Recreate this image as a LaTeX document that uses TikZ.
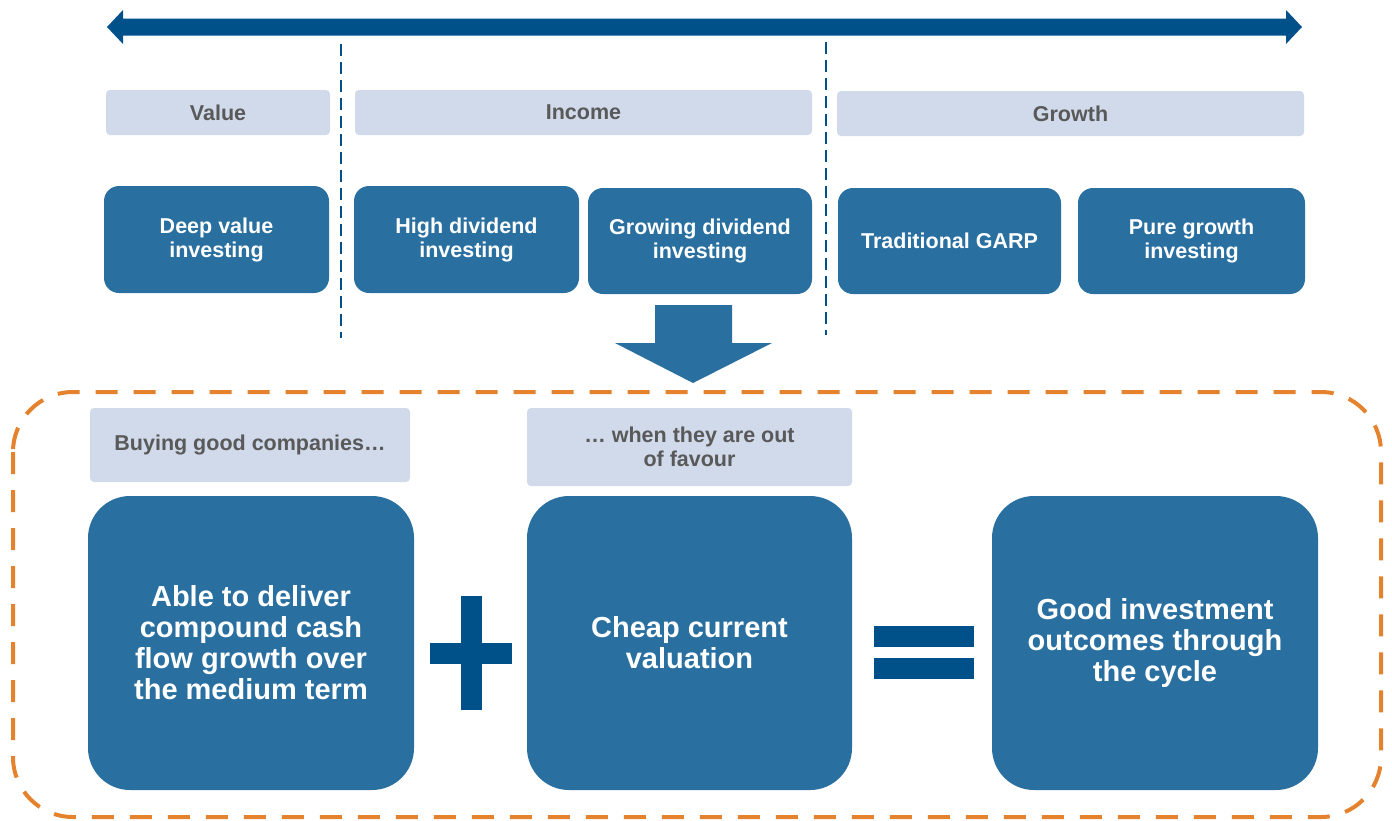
\documentclass[tikz,border=0pt]{standalone}
\usepackage{fontspec}
\setmainfont{Liberation Sans}
\definecolor{lightbox}{RGB}{208,218,234}
\definecolor{graytext}{RGB}{89,89,89}
\definecolor{boxblue}{RGB}{41,111,160}
\definecolor{darkblue}{RGB}{0,80,138}
\definecolor{dashorange}{RGB}{229,130,45}
\tikzset{
  catbox/.style={fill=lightbox, rounded corners=4pt, inner sep=0pt, text=graytext,
     font=\fontsize{21.5}{23.5}\selectfont\bfseries, align=center},
  smallblue/.style={fill=boxblue, rounded corners=15pt, inner sep=0pt, text=white,
     font=\fontsize{21.5}{24}\selectfont\bfseries, align=center},
  bigblue/.style={fill=boxblue, rounded corners=42pt, inner sep=0pt, text=white,
     font=\fontsize{29}{31}\selectfont\bfseries, align=center},
  sepline/.style={draw=darkblue, line width=2pt, dash pattern=on 12pt off 6pt},
}
\begin{document}
\begin{tikzpicture}[x=1pt,y=-1pt]
\useasboundingbox (0,0) rectangle (1392,820);
% top double arrow
\fill[darkblue] (107,27) -- (123,10) -- (123,18.5) -- (1286,18.5) -- (1286,10) -- (1302,27)
  -- (1286,44) -- (1286,35.5) -- (123,35.5) -- (123,44) -- cycle;
% separators
\coordinate (s1a) at (341,44); \coordinate (s1b) at (341,338);
\coordinate (s2a) at (826,42); \coordinate (s2b) at (826,335);
\draw[sepline] (s1a) -- (s1b);
\draw[sepline] (s2a) -- (s2b);
% category boxes
\node[catbox, minimum width=224pt, minimum height=45pt] (value) at (218,112.5) {Value};
\node[catbox, minimum width=457pt, minimum height=45pt] (income) at (583.5,112.5) {Income};
\node[catbox, minimum width=467pt, minimum height=45pt] (growth) at (1070.5,113.5) {Growth};
% strategy boxes
\node[smallblue, minimum width=225pt, minimum height=107pt] (deep) at (216.5,239.5) {Deep value\\investing};
\node[smallblue, minimum width=225pt, minimum height=107pt] (high) at (466.5,239.5) {High dividend\\investing};
\node[smallblue, minimum width=224pt, minimum height=106pt] (grow) at (700,241) {Growing dividend\\investing};
\node[smallblue, minimum width=223pt, minimum height=106pt] (garp) at (949.5,241) {Traditional GARP};
\node[smallblue, minimum width=227pt, minimum height=106pt] (pure) at (1191.5,241) {Pure growth\\investing};
% down arrow
\fill[boxblue] (655,305) -- (732,305) -- (732,343) -- (772,343) -- (693,383) -- (615,343) -- (655,343) -- cycle;
% orange dashed frame
\draw[dashorange, line width=4pt, dash pattern=on 22pt off 16pt, rounded corners=60pt]
  (13,392) rectangle (1381,817);
% bottom labels
\node[catbox, minimum width=320pt, minimum height=74pt] (buy) at (250,445) {Buying good companies\ldots};
\node[catbox, minimum width=325pt, minimum height=78pt] (when) at (689.5,447) {\ldots\ when they are out\\of favour};
% big boxes
\node[bigblue, minimum width=326pt, minimum height=294pt] (able) at (251,643) {Able to deliver\\compound cash\\flow growth over\\the medium term};
\node[bigblue, minimum width=325pt, minimum height=294pt] (cheap) at (689.5,643) {Cheap current\\valuation};
\node[bigblue, minimum width=326pt, minimum height=294pt] (good) at (1155,643) {Good investment\\outcomes through\\the cycle};
% plus and equals
\fill[darkblue] (461,596) rectangle (482,710);
\fill[darkblue] (430,643) rectangle (512,664);
\fill[darkblue] (874,626) rectangle (974,647);
\fill[darkblue] (874,658) rectangle (974,679);
\end{tikzpicture}
\end{document}
